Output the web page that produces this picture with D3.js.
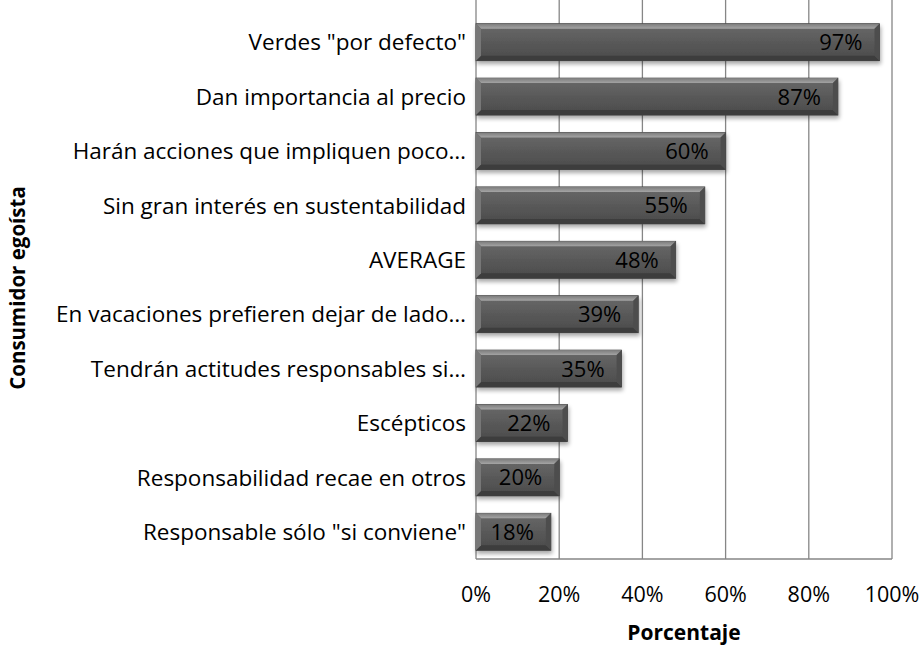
<!DOCTYPE html>
<html>
<head>
<meta charset="utf-8">
<script src="https://cdn.jsdelivr.net/npm/d3@7"></script>
<style>
  body { margin: 0; background: #fff; }
  text { font-family: "Open Sans", sans-serif; fill: #000; }
</style>
</head>
<body>
<script>
// data
var categories = ["Verdes \"por defecto\"", "Dan importancia al precio ", "Harán acciones que impliquen poco…",
                  "Sin gran interés en sustentabilidad ", "AVERAGE", "En vacaciones prefieren dejar de lado…",
                  "Tendrán actitudes responsables si…", "Escépticos", "Responsabilidad recae en otros",
                  "Responsable sólo \"si conviene\""];
var values = [0.97, 0.87, 0.60, 0.55, 0.48, 0.39, 0.35, 0.22, 0.20, 0.18];
var ticks = [0, 0.2, 0.4, 0.6, 0.8, 1.0];

var width = 923, height = 646;
var plot = {left: 476, right: 892, top: 15, bottom: 559};

var svg = d3.select("body").append("svg")
    .attr("width", width)
    .attr("height", height);

var x = d3.scaleLinear().domain([0, 1]).range([plot.left, plot.right]);
var y = d3.scaleBand().domain(categories).range([plot.top, plot.bottom]).paddingInner(0.32).paddingOuter(0.16);

var defs = svg.append("defs");
var g1 = defs.append("linearGradient").attr("id", "barFill").attr("x1", 0).attr("y1", 0).attr("x2", 0).attr("y2", 1);
g1.append("stop").attr("offset", "0%").attr("stop-color", "#6a6a6a");
g1.append("stop").attr("offset", "50%").attr("stop-color", "#595959");
g1.append("stop").attr("offset", "100%").attr("stop-color", "#4a4a4a");

var g2 = defs.append("linearGradient").attr("id", "bevelTop").attr("x1", 0).attr("y1", 0).attr("x2", 0).attr("y2", 1);
g2.append("stop").attr("offset", "0%").attr("stop-color", "#7c7c7c");
g2.append("stop").attr("offset", "100%").attr("stop-color", "#a4a4a4");

var shadow = defs.append("filter").attr("id", "shadow").attr("x", "-10%").attr("y", "-30%").attr("width", "120%").attr("height", "180%");
shadow.append("feGaussianBlur").attr("in", "SourceAlpha").attr("stdDeviation", 2);
shadow.append("feOffset").attr("dx", 1).attr("dy", 3).attr("result", "off");
shadow.append("feComponentTransfer").append("feFuncA").attr("type", "linear").attr("slope", 0.35);
var merge = shadow.append("feMerge");
merge.append("feMergeNode");
merge.append("feMergeNode").attr("in", "SourceGraphic");

// gridlines
svg.append("g").selectAll("line")
    .data(ticks.slice(1))
    .enter().append("line")
    .attr("x1", function(d) { return x(d); })
    .attr("x2", function(d) { return x(d); })
    .attr("y1", 0)
    .attr("y2", plot.bottom)
    .attr("stroke", "#868686")
    .attr("stroke-width", 1.3);

// axis lines
svg.append("line")
    .attr("x1", x(0)).attr("x2", x(0)).attr("y1", 0).attr("y2", plot.bottom)
    .attr("stroke", "#868686").attr("stroke-width", 1.3);
svg.append("line")
    .attr("x1", x(0)).attr("x2", x(1)).attr("y1", plot.bottom).attr("y2", plot.bottom)
    .attr("stroke", "#868686").attr("stroke-width", 1.3);

// bars
var bev = 5;
var bars = svg.append("g").selectAll("g")
    .data(values)
    .enter().append("g")
    .attr("filter", "url(#shadow)");

bars.append("rect")
    .attr("x", x(0))
    .attr("y", function(d, i) { return y(categories[i]); })
    .attr("width", function(d) { return x(d) - x(0); })
    .attr("height", y.bandwidth())
    .attr("fill", "url(#barFill)")
    .attr("stroke", "#3c3c3c")
    .attr("stroke-width", 0.8);

// top bevel
bars.append("path")
    .attr("fill", "url(#bevelTop)")
    .attr("d", function(d, i) {
      var y0 = y(categories[i]), x0 = x(0), x1 = x(d);
      return "M" + x0 + "," + y0 + "L" + x1 + "," + y0 + "L" + (x1 - bev) + "," + (y0 + bev) + "L" + (x0 + bev) + "," + (y0 + bev) + "Z";
    });
// bottom bevel
bars.append("path")
    .attr("fill", "#3e3e3e")
    .attr("d", function(d, i) {
      var y1 = y(categories[i]) + y.bandwidth(), x0 = x(0), x1 = x(d);
      return "M" + x0 + "," + y1 + "L" + x1 + "," + y1 + "L" + (x1 - bev) + "," + (y1 - bev) + "L" + (x0 + bev) + "," + (y1 - bev) + "Z";
    });
// side bevels
bars.append("path")
    .attr("fill", "#777")
    .attr("d", function(d, i) {
      var y0 = y(categories[i]), y1 = y0 + y.bandwidth(), x0 = x(0);
      return "M" + x0 + "," + y0 + "L" + (x0 + bev) + "," + (y0 + bev) + "L" + (x0 + bev) + "," + (y1 - bev) + "L" + x0 + "," + y1 + "Z";
    });
bars.append("path")
    .attr("fill", "#4e4e4e")
    .attr("d", function(d, i) {
      var y0 = y(categories[i]), y1 = y0 + y.bandwidth(), x1 = x(d);
      return "M" + x1 + "," + y0 + "L" + (x1 - bev) + "," + (y0 + bev) + "L" + (x1 - bev) + "," + (y1 - bev) + "L" + x1 + "," + y1 + "Z";
    });

// value labels
svg.append("g").selectAll("text")
    .data(values)
    .enter().append("text")
    .attr("x", function(d) { return x(d) - 17; })
    .attr("y", function(d, i) { return y(categories[i]) + y.bandwidth() / 2; })
    .attr("dy", "0.36em")
    .attr("text-anchor", "end")
    .style("font-size", "22px")
    .text(function(d) { return Math.round(d * 100) + "%"; });

// category labels
svg.append("g").selectAll("text")
    .data(categories)
    .enter().append("text")
    .attr("x", 466)
    .attr("y", function(d) { return y(d) + y.bandwidth() / 2; })
    .attr("dy", "0.36em")
    .attr("text-anchor", "end")
    .style("font-size", "22.5px")
    .text(function(d) { return d; });

// x tick labels
svg.append("g").selectAll("text")
    .data(ticks)
    .enter().append("text")
    .attr("x", function(d) { return x(d); })
    .attr("y", 602)
    .attr("text-anchor", "middle")
    .style("font-size", "21.5px")
    .text(function(d) { return Math.round(d * 100) + "%"; });

// axis titles
svg.append("text")
    .attr("x", 684)
    .attr("y", 640)
    .attr("text-anchor", "middle")
    .style("font-size", "21px")
    .style("font-weight", "bold")
    .text("Porcentaje");

svg.append("text")
    .attr("transform", "translate(25,288) rotate(-90)")
    .attr("text-anchor", "middle")
    .style("font-size", "20.5px")
    .style("font-weight", "bold")
    .text("Consumidor egoísta");
</script>
</body>
</html>
